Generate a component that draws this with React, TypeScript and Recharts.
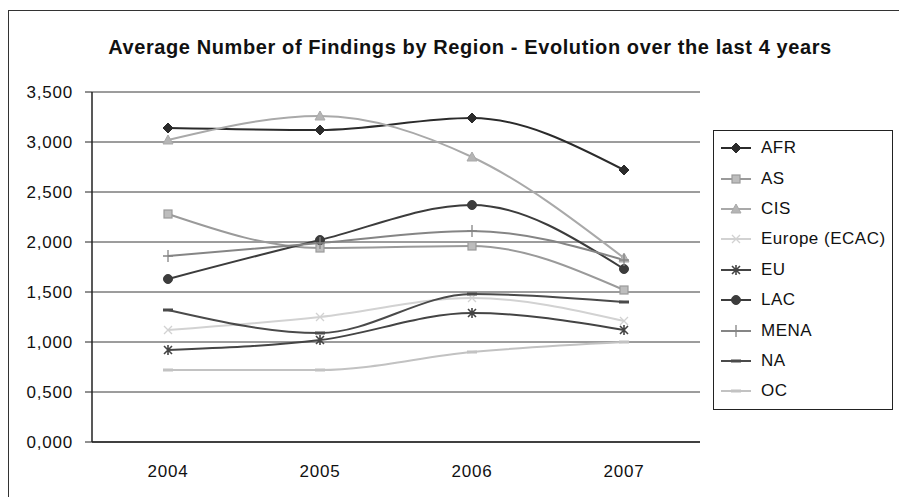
import React from 'react';
import { LineChart, Line, XAxis, YAxis, CartesianGrid } from 'recharts';

const years = ['2004', '2005', '2006', '2007'];
const afr = [3.14, 3.12, 3.24, 2.72];
const as = [2.28, 1.94, 1.96, 1.52];
const cis = [3.02, 3.26, 2.85, 1.84];
const europe = [1.12, 1.25, 1.44, 1.21];
const eu = [0.92, 1.02, 1.29, 1.12];
const lac = [1.63, 2.02, 2.37, 1.73];
const mena = [1.86, 1.99, 2.11, 1.82];
const na = [1.32, 1.09, 1.48, 1.4];
const oc = [0.72, 0.72, 0.9, 1.0];
const yTicks = [0, 0.5, 1, 1.5, 2, 2.5, 3, 3.5];
const edgeTicks = [0, 1, 2, 3, 4];

type Marker = 'diamond' | 'square' | 'triangle' | 'cross' | 'star' | 'circle' | 'plus' | 'dash';

const series: { name: string; values: number[]; color: string; marker: Marker }[] = [
  { name: 'AFR', values: afr, color: '#2b2b2b', marker: 'diamond' },
  { name: 'AS', values: as, color: '#9a9a9a', marker: 'square' },
  { name: 'CIS', values: cis, color: '#a9a9a9', marker: 'triangle' },
  { name: 'Europe (ECAC)', values: europe, color: '#d2d2d2', marker: 'cross' },
  { name: 'EU', values: eu, color: '#444444', marker: 'star' },
  { name: 'LAC', values: lac, color: '#3c3c3c', marker: 'circle' },
  { name: 'MENA', values: mena, color: '#858585', marker: 'plus' },
  { name: 'NA', values: na, color: '#4a4a4a', marker: 'dash' },
  { name: 'OC', values: oc, color: '#c2c2c2', marker: 'dash' },
];

const data = years.map((year, i) => {
  const row: Record<string, string | number> = { year };
  series.forEach((s) => (row[s.name] = s.values[i]));
  return row;
});

const font = '"Liberation Sans", Arial, sans-serif';

const drawMarker = (marker: Marker, cx: number, cy: number, color: string, key?: string) => {
  switch (marker) {
    case 'diamond':
      return <path key={key} d={`M${cx},${cy - 5}L${cx + 5},${cy}L${cx},${cy + 5}L${cx - 5},${cy}Z`} fill={color} stroke={color} />;
    case 'square':
      return <rect key={key} x={cx - 4} y={cy - 4} width={8} height={8} fill="#bdbdbd" stroke={color} strokeWidth={1.2} />;
    case 'triangle':
      return <path key={key} d={`M${cx},${cy - 5}L${cx + 5},${cy + 4}L${cx - 5},${cy + 4}Z`} fill="#b5b5b5" stroke={color} />;
    case 'cross':
      return (
        <path key={key} d={`M${cx - 4},${cy - 4}L${cx + 4},${cy + 4}M${cx - 4},${cy + 4}L${cx + 4},${cy - 4}`} stroke={color} strokeWidth={1.3} />
      );
    case 'star':
      return (
        <path
          key={key}
          d={`M${cx - 4},${cy - 4}L${cx + 4},${cy + 4}M${cx - 4},${cy + 4}L${cx + 4},${cy - 4}M${cx},${cy - 5}L${cx},${cy + 5}`}
          stroke={color}
          strokeWidth={1.6}
        />
      );
    case 'circle':
      return <circle key={key} cx={cx} cy={cy} r={4.5} fill={color} stroke={color} />;
    case 'plus':
      return <path key={key} d={`M${cx - 5},${cy}L${cx + 5},${cy}M${cx},${cy - 6}L${cx},${cy + 6}`} stroke={color} strokeWidth={1.3} />;
    default:
      return <rect key={key} x={cx - 5} y={cy - 1.5} width={10} height={3} fill={color} />;
  }
};

// legend drawn as a plain box so it doesn't take space from the plot
const LegendBox = () => (
  <div
    style={{
      position: 'absolute',
      left: 713,
      top: 130,
      border: '1.5px solid #222',
      background: '#fff',
      width: 180,
      height: 280,
      boxSizing: 'border-box',
      paddingTop: 2,
      fontFamily: font,
      fontSize: 17,
      letterSpacing: 0.5,
      color: '#111',
    }}
  >
    {series.map((s) => (
      <div key={s.name} style={{ display: 'flex', alignItems: 'center', height: 30.4 }}>
        <svg width={42} height={14} style={{ marginLeft: 5 }}>
          <line x1={2} y1={7} x2={32} y2={7} stroke={s.color} strokeWidth={2} />
          {drawMarker(s.marker, 17, 7, s.color)}
        </svg>
        <span>{s.name}</span>
      </div>
    ))}
  </div>
);

const fmt = (v: number) => v.toFixed(3).replace('.', ',');

export default function App() {
  return (
    <div style={{ position: 'absolute', left: 0, top: 0, width: 899, height: 497, background: '#fff', overflow: 'hidden' }}>
      <div
        style={{
          position: 'absolute',
          left: 8,
          top: 10,
          width: 920,
          height: 520,
          borderTop: '1.5px solid #333',
          borderLeft: '1.5px solid #333',
        }}
      />
      <div
        style={{
          position: 'absolute',
          left: 0,
          top: 36,
          width: 940,
          textAlign: 'center',
          fontFamily: font,
          fontWeight: 'bold',
          fontSize: 20,
          letterSpacing: 0.6,
          color: '#111',
        }}
      >
        Average Number of Findings by Region - Evolution over the last 4 years
      </div>
      <div style={{ position: 'absolute', left: 0, top: 0 }}>
        <LineChart width={899} height={497} data={data} margin={{ top: 92, right: 199, bottom: 24, left: 0 }}>
          <CartesianGrid vertical={false} horizontal stroke="#3a3a3a" strokeWidth={1} xAxisId="years" />
          {/* axis id 0: tick marks on the category boundaries, nearest the plot */}
          <XAxis
            type="number"
            domain={[0, 4]}
            ticks={edgeTicks}
            tick={false}
            tickSize={7}
            height={1}
            stroke="#222"
            axisLine={{ stroke: '#222', strokeWidth: 1.5 }}
          />
          <XAxis
            xAxisId="years"
            dataKey="year"
            scale="band"
            height={30}
            tickLine={false}
            axisLine={false}
            tickMargin={16}
            tick={{ fontFamily: font, fontSize: 17, letterSpacing: 0.8, fill: '#111' }}
          />
          <YAxis
            domain={[0, 3.5]}
            ticks={yTicks}
            width={92}
            tickSize={7}
            tickMargin={12}
            tickFormatter={fmt}
            stroke="#222"
            axisLine={{ stroke: '#222', strokeWidth: 1.5 }}
            tick={{ fontFamily: font, fontSize: 17, letterSpacing: 0.8, fill: '#111' }}
            interval={0}
          />
          {series.map((s) => (
            <Line
              key={s.name}
              xAxisId="years"
              dataKey={s.name}
              type="monotone"
              stroke={s.color}
              strokeWidth={2}
              isAnimationActive={false}
              dot={(p: any) => drawMarker(s.marker, p.cx, p.cy, s.color, `${s.name}-${p.index}`)}
              activeDot={false}
            />
          ))}
        </LineChart>
      </div>
      <LegendBox />
    </div>
  );
}
